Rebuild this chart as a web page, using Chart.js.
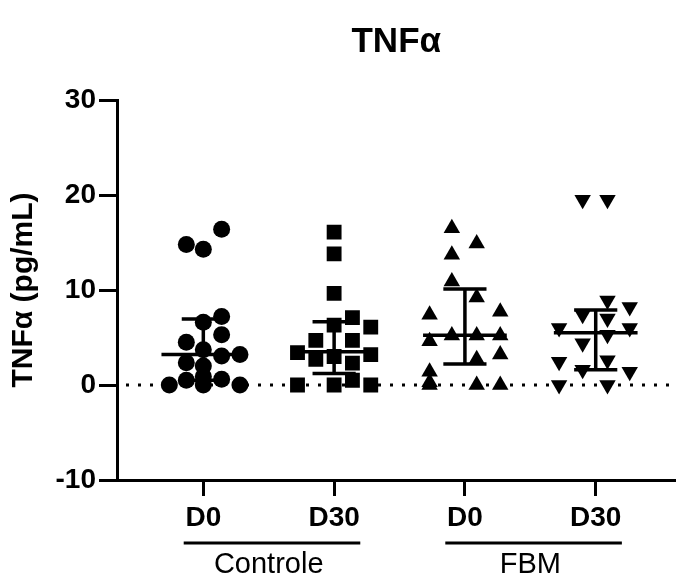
<!DOCTYPE html>
<html><head><meta charset="utf-8">
<script src="https://cdn.jsdelivr.net/npm/chart.js@4/dist/chart.umd.min.js"></script>
<style>html,body{margin:0;padding:0;background:#fff;overflow:hidden;}canvas{display:block;}</style>
</head><body>
<canvas id="c" width="686" height="581"></canvas>
<script>
// ---- data ----
const groupPositions = [1, 2, 3, 4];
const tickLabels = ['D0', 'D30', 'D0', 'D30'];
const groupNames = ['Controle', 'FBM'];

const controleD0 = [16.4, 14.8, 14.3, 7.2, 6.6, 5.3, 4.5, 3.7, 3.05, 3.2, 2.35, 2.0, 0.5, 0.9, 0.6, 0, 0, 0];
const controleD0Jitter = [0.14, -0.13, 0, 0.14, 0, 0.14, -0.13, 0, 0.14, 0.28, -0.13, 0, -0.13, 0, 0.14, -0.26, 0, 0.28];

const controleD30 = [16.1, 13.8, 9.65, 7.1, 6.3, 6.1, 4.7, 4.7, 3.4, 3.0, 3.2, 2.7, 2.3, 0.5, 0, 0, 0];
const controleD30Jitter = [0, 0, 0, 0.14, 0, 0.28, -0.14, 0.14, -0.28, 0, 0.28, -0.14, 0.14, 0.14, -0.28, 0, 0.28];

const fbmD0 = [16.5, 14.9, 13.7, 10.9, 9.2, 7.4, 7.7, 5.2, 5.2, 5.2, 4.6, 2.7, 3.2, 1.4, 0.3, 0, 0, 0];
const fbmD0Jitter = [-0.1, 0.09, -0.1, -0.1, 0.09, -0.27, 0.27, -0.1, 0.09, 0.27, -0.27, 0.09, 0.27, -0.27, -0.27, -0.27, 0.09, 0.27];

const fbmD30 = [19.5, 19.5, 8.9, 8.2, 7.4, 7.0, 6.0, 6.0, 5.3, 4.4, 2.6, 2.45, 1.6, 1.4, 0, 0];
const fbmD30Jitter = [-0.1, 0.09, 0.09, 0.26, -0.1, 0.09, -0.28, 0.26, 0.09, -0.1, 0.09, -0.28, -0.1, 0.26, -0.28, 0.09];

const medians = [3.2, 3.5, 5.25, 5.5];
const q1Values = [0.5, 1.2, 2.2, 1.6];
const q3Values = [6.95, 6.65, 10.1, 7.9];

const yTicks = [-10, 0, 10, 20, 30];
// ----------------------------------------

const FONT = '"Liberation Sans", Arial, Helvetica, sans-serif';

function toPoints(values, jitter, pos) {
  return values.map((v, i) => ({ x: pos + jitter[i], y: v }));
}

const summaryPlugin = {
  id: 'summary',
  beforeDatasetsDraw(chart) {
    const { ctx, chartArea, scales } = chart;
    const y0 = scales.y.getPixelForValue(0);
    ctx.save();
    ctx.strokeStyle = '#000';
    ctx.lineWidth = 3;
    ctx.setLineDash([3, 9]);
    ctx.beginPath();
    ctx.moveTo(chartArea.left + 9, y0);
    ctx.lineTo(chartArea.right, y0);
    ctx.stroke();
    ctx.restore();
  },
  afterDatasetsDraw(chart) {
    const { ctx, scales } = chart;
    const xs = scales.x, ys = scales.y;
    ctx.save();
    ctx.strokeStyle = '#000';
    ctx.lineCap = 'butt';
    groupPositions.forEach((p, i) => {
      const cx = xs.getPixelForValue(p);
      const ym = ys.getPixelForValue(medians[i]);
      const y1 = ys.getPixelForValue(q1Values[i]);
      const y3 = ys.getPixelForValue(q3Values[i]);
      const mHalf = xs.getPixelForValue(p + 0.32) - cx;
      const qHalf = xs.getPixelForValue(p + 0.165) - cx;
      ctx.lineWidth = 3.5;
      ctx.beginPath();
      ctx.moveTo(cx - mHalf, ym); ctx.lineTo(cx + mHalf, ym);
      ctx.moveTo(cx - qHalf, y3); ctx.lineTo(cx + qHalf, y3);
      ctx.moveTo(cx - qHalf, y1); ctx.lineTo(cx + qHalf, y1);
      ctx.moveTo(cx, y3); ctx.lineTo(cx, y1);
      ctx.stroke();
    });
    ctx.restore();
  },
  afterDraw(chart) {
    const { ctx, chartArea, scales } = chart;
    const xs = scales.x;
    ctx.save();
    ctx.strokeStyle = '#000';
    ctx.fillStyle = '#000';
    ctx.lineWidth = 3;
    const lineY = chartArea.bottom + 63;
    const textY = chartArea.bottom + 85;
    ctx.font = '29px ' + FONT;
    ctx.textAlign = 'center';
    ctx.textBaseline = 'middle';
    groupNames.forEach((name, g) => {
      const a = groupPositions[g * 2], b = groupPositions[g * 2 + 1];
      const xa = xs.getPixelForValue(a - 0.15);
      const xb = xs.getPixelForValue(b + 0.2);
      ctx.beginPath();
      ctx.moveTo(xa, lineY); ctx.lineTo(xb, lineY);
      ctx.stroke();
      const mid = (xs.getPixelForValue(a) + xs.getPixelForValue(b)) / 2;
      ctx.fillText(name, mid, textY);
    });
    ctx.restore();
  }
};

const markerBase = { backgroundColor: '#000', borderColor: '#000', borderWidth: 0, showLine: false };

new Chart(document.getElementById('c'), {
  type: 'scatter',
  data: {
    datasets: [
      Object.assign({ label: 'Controle D0', data: toPoints(controleD0, controleD0Jitter, groupPositions[0]), pointStyle: 'circle', pointRadius: 8.5 }, markerBase),
      Object.assign({ label: 'Controle D30', data: toPoints(controleD30, controleD30Jitter, groupPositions[1]), pointStyle: 'rect', pointRadius: 10.5 }, markerBase),
      Object.assign({ label: 'FBM D0', data: toPoints(fbmD0, fbmD0Jitter, groupPositions[2]), pointStyle: 'triangle', pointRadius: 9.5 }, markerBase),
      Object.assign({ label: 'FBM D30', data: toPoints(fbmD30, fbmD30Jitter, groupPositions[3]), pointStyle: 'triangle', rotation: 180, pointRadius: 9.5 }, markerBase)
    ]
  },
  options: {
    responsive: false,
    animation: false,
    events: [],
    layout: { padding: 0 },
    plugins: {
      legend: { display: false },
      tooltip: { enabled: false },
      title: {
        display: true, text: 'TNFα', fullSize: false, color: '#000',
        font: { family: FONT, size: 35, weight: 'bold' },
        padding: { top: 21, bottom: 37 }
      }
    },
    scales: {
      x: {
        type: 'linear', min: 0.34, max: 4.61,
        afterBuildTicks: s => { s.ticks = groupPositions.map(v => ({ value: v })); },
        ticks: {
          callback: (v, i) => tickLabels[i], color: '#000', padding: 5,
          font: { family: FONT, size: 28, weight: 'bold' }, maxRotation: 0, autoSkip: false
        },
        grid: { drawOnChartArea: false, drawTicks: true, tickLength: 16, tickWidth: 3, tickColor: '#000' },
        border: { display: true, color: '#000', width: 3 },
        afterFit: s => { s.height = 101; }
      },
      y: {
        min: -10, max: 30,
        afterBuildTicks: s => { s.ticks = yTicks.map(v => ({ value: v })); },
        ticks: { color: '#000', padding: 3, font: { family: FONT, size: 28, weight: 'bold' } },
        grid: { drawOnChartArea: false, drawTicks: true, tickLength: 18, tickWidth: 3, tickColor: '#000' },
        border: { display: true, color: '#000', width: 3 },
        title: {
          display: true, text: 'TNFα (pg/mL)', color: '#000',
          font: { family: FONT, size: 30, weight: 'bold' }, padding: { top: 6, bottom: 0 }
        },
        afterFit: s => { s.width = 117; }
      }
    }
  },
  plugins: [summaryPlugin]
});
</script>
</body></html>
